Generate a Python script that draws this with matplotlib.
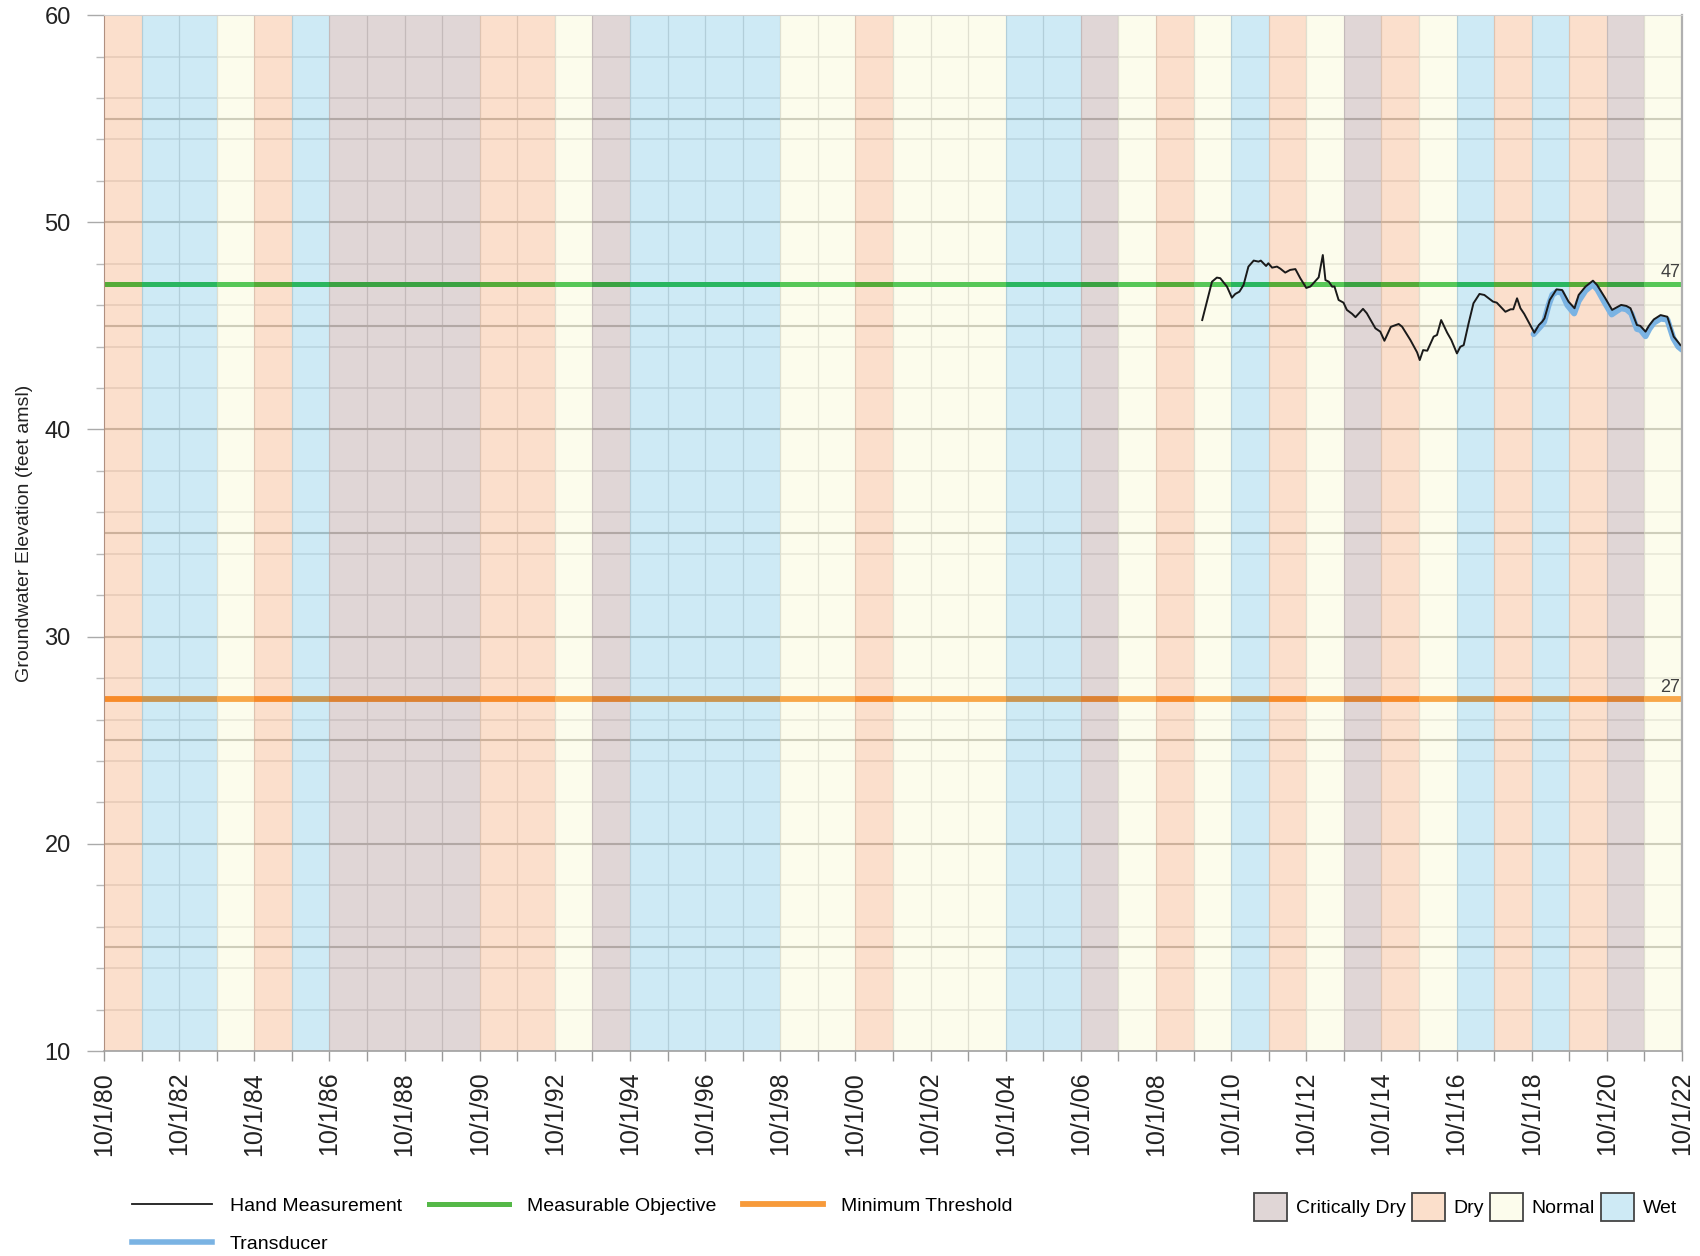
import numpy as np
import matplotlib
matplotlib.use("Agg")
import matplotlib.pyplot as plt
from matplotlib.lines import Line2D
from matplotlib.patches import Patch

# ---------------- data ----------------
# water year types, WY1981 .. WY2022 (each starts 10/1 of previous year)
wy_start = 1980.75
wy_types = ["D", "W", "W", "N", "D", "W", "C", "C", "C", "C",
            "D", "D", "N", "C", "W", "W", "W", "W", "N", "N",
            "D", "N", "N", "N", "W", "W", "C", "N", "D", "N",
            "W", "D", "N", "C", "D", "N", "W", "D", "W", "D",
            "C", "N"]

hand_years = [2009.98, 2010.24, 2010.37, 2010.46, 2010.64, 2010.77, 2010.86, 2010.97,
              2011.08, 2011.21, 2011.35, 2011.48, 2011.54, 2011.68, 2011.74, 2011.84,
              2011.97, 2012.06, 2012.19, 2012.32, 2012.46, 2012.59, 2012.75, 2012.86,
              2013.08, 2013.19, 2013.26, 2013.35, 2013.44, 2013.50, 2013.61, 2013.74,
              2013.83, 2013.97, 2014.06, 2014.26, 2014.36, 2014.59, 2014.72, 2014.83,
              2015.00, 2015.07, 2015.21, 2015.30, 2015.52, 2015.70, 2015.77, 2015.86,
              2015.97, 2016.14, 2016.23, 2016.34, 2016.50, 2016.61, 2016.76, 2016.85,
              2016.94, 2017.07, 2017.20, 2017.36, 2017.49, 2017.72, 2017.82, 2018.05,
              2018.19, 2018.26, 2018.36, 2018.45, 2018.55, 2018.82, 2018.94, 2019.03,
              2019.09, 2019.23, 2019.41, 2019.56, 2019.73, 2019.89, 2020.00, 2020.18,
              2020.38, 2020.49, 2020.71, 2020.89, 2021.02, 2021.13, 2021.27, 2021.38,
              2021.55, 2021.64, 2021.78, 2021.87, 2022.00, 2022.18, 2022.36, 2022.53,
              2022.71]
hand_values = [45.28, 47.13, 47.33, 47.30, 46.89, 46.36, 46.54, 46.65,
               46.97, 47.86, 48.15, 48.10, 48.15, 47.89, 48.02, 47.81,
               47.86, 47.76, 47.57, 47.70, 47.74, 47.30, 46.83, 46.90,
               47.34, 48.42, 47.21, 47.13, 46.89, 46.90, 46.25, 46.12,
               45.77, 45.58, 45.42, 45.82, 45.61, 44.88, 44.72, 44.28,
               44.95, 45.00, 45.09, 44.96, 44.32, 43.72, 43.35, 43.83,
               43.80, 44.48, 44.56, 45.28, 44.67, 44.32, 43.67, 43.99,
               44.07, 45.12, 46.09, 46.54, 46.49, 46.17, 46.12, 45.68,
               45.80, 45.80, 46.33, 45.85, 45.58, 44.67, 45.04, 45.20,
               45.36, 46.25, 46.76, 46.73, 46.17, 45.85, 46.49, 46.89,
               47.18, 46.97, 46.33, 45.77, 45.90, 46.01, 45.96, 45.85,
               45.04, 45.00, 44.72, 45.00, 45.31, 45.52, 45.44, 44.48,
               44.07]

trans_years = [2018.80, 2018.90, 2019.00, 2019.08, 2019.20, 2019.30, 2019.42, 2019.55,
               2019.70, 2019.88, 2020.00, 2020.18, 2020.38, 2020.50, 2020.70, 2020.88,
               2021.00, 2021.13, 2021.27, 2021.40, 2021.55, 2021.65, 2021.78, 2021.88,
               2022.00, 2022.18, 2022.36, 2022.52, 2022.65, 2022.75]
trans_values = [44.60, 44.80, 45.00, 45.20, 46.00, 46.50, 46.65, 46.60,
                46.00, 45.60, 46.20, 46.70, 47.00, 46.75, 46.10, 45.55,
                45.70, 45.85, 45.80, 45.60, 44.85, 44.80, 44.50, 44.85,
                45.15, 45.35, 45.30, 44.40, 44.00, 43.85]

measurable_objective = 47
minimum_threshold = 27

xtick_years = list(range(1980, 2023, 2))
xtick_labels = ["10/1/%02d" % (y % 100) for y in xtick_years]
ytick_values = [10, 20, 30, 40, 50, 60]

type_names = {"C": "Critically Dry", "D": "Dry", "N": "Normal", "W": "Wet"}
band_colors = {"C": (100/255, 50/255, 50/255, 0.2),
               "D": (235/255, 95/255, 0/255, 0.2),
               "N": (240/255, 240/255, 160/255, 0.2),
               "W": (10/255, 150/255, 205/255, 0.2)}
legend_colors = {"C": "#e0d6d6", "D": "#fbdfcb", "N": "#fcfcec", "W": "#ceeaf5"}

# ---------------- figure ----------------
plt.rcParams["font.family"] = ["Liberation Sans", "DejaVu Sans"]

fig = plt.figure(figsize=(17, 12.56), dpi=100)
ax = fig.add_axes([0.0612, 0.1632, 0.9282, 0.8248])

x0 = wy_start
x1 = wy_start + len(wy_types)
ax.set_xlim(x0, x1)
ax.set_ylim(10, 60)

# grid lines
for v in np.arange(12, 60, 2):
    ax.axhline(v, color="#e4e4e4", lw=1.1, zorder=0.5)
for v in np.arange(15, 60, 5):
    ax.axhline(v, color="#c6c6c2", lw=1.5, zorder=0.6)
for k in range(1, len(wy_types)):
    ax.axvline(x0 + k, color="#dcdcdc", lw=0.9, zorder=0.5)

# threshold lines (under the translucent bands)
ax.axhline(measurable_objective, color="#32be46", lw=3.6, zorder=1.0,
           solid_capstyle="butt")
ax.axhline(minimum_threshold, color="#fb9634", lw=4.2, zorder=1.0,
           solid_capstyle="round")

# water year bands
for i, t in enumerate(wy_types):
    ax.axvspan(x0 + i, x0 + i + 1, color=band_colors[t], lw=0, zorder=1.5)

# data
ax.plot(trans_years, trans_values, color="#7ab3e3", lw=4.3, zorder=3,
        solid_capstyle="round", solid_joinstyle="round")
ax.plot(hand_years, hand_values, color="#1a1a1a", lw=1.4, zorder=4)

ax.text(x1 - 0.05, measurable_objective + 0.15, "%d" % measurable_objective,
        ha="right", va="bottom", fontsize=13, color="#404040", zorder=5)
ax.text(x1 - 0.05, minimum_threshold + 0.15, "%d" % minimum_threshold,
        ha="right", va="bottom", fontsize=13, color="#404040", zorder=5)

# axes styling
ax.set_xticks([wy_start + (y - 1980) for y in xtick_years])
ax.set_xticklabels(xtick_labels, rotation=90, fontsize=18, color="#222222")
ax.set_xticks([x0 + k for k in range(len(wy_types) + 1)], minor=True)
ax.tick_params(axis="x", which="both", direction="out", length=7, width=1,
               color="#999999", pad=8)
ax.set_yticks(ytick_values)
ax.set_yticklabels([str(v) for v in ytick_values], fontsize=17, color="#222222")
ax.set_yticks(np.arange(10, 61, 2), minor=True)
ax.tick_params(axis="y", which="major", direction="out", length=12, width=1,
               color="#aaaaaa", pad=12)
ax.tick_params(axis="y", which="minor", direction="out", length=6, width=1,
               color="#bbbbbb")

ax.spines["top"].set_color("#d0d0d0")
ax.spines["right"].set_color("#b0b0b0")
ax.spines["right"].set_linewidth(1.6)
ax.spines["left"].set_color("#b09080")
ax.spines["bottom"].set_color("#a0a0a0")
ax.spines["bottom"].set_linewidth(1.2)
for s in ax.spines.values():
    s.set_zorder(6)

ax.set_ylabel("Groundwater Elevation (feet amsl)", fontsize=14,
              color="#222222", labelpad=8)

# legends
line_handles = [
    Line2D([], [], color="#1a1a1a", lw=1.3),
    Line2D([], [], color="#7ab3e3", lw=4.0),
    Line2D([], [], color="#55b848", lw=3.6),
    Line2D([], [], color="#f79a3a", lw=4.2),
]
line_labels = ["Hand Measurement", "Transducer", "Measurable Objective", "Minimum Threshold"]
fig.legend(line_handles, line_labels, loc="upper left", bbox_to_anchor=(0.0776, 0.0465),
           ncol=3, frameon=False, prop={"size": 14},
           handlelength=4.1, handletextpad=0.93, columnspacing=1.4,
           labelspacing=1.05, borderpad=0, borderaxespad=0)

patch_handles = [Patch(facecolor=legend_colors[k], edgecolor="#444444", lw=1.3)
                 for k in ["C", "D", "N", "W"]]
fig.legend(patch_handles, [type_names[k] for k in ["C", "D", "N", "W"]],
           loc="upper left", bbox_to_anchor=(0.7377, 0.050), ncol=4, frameon=False,
           prop={"size": 14}, handlelength=1.7, handleheight=1.8,
           handletextpad=0.45, columnspacing=0.3, borderpad=0, borderaxespad=0)

fig.savefig("out.png", dpi=100)
